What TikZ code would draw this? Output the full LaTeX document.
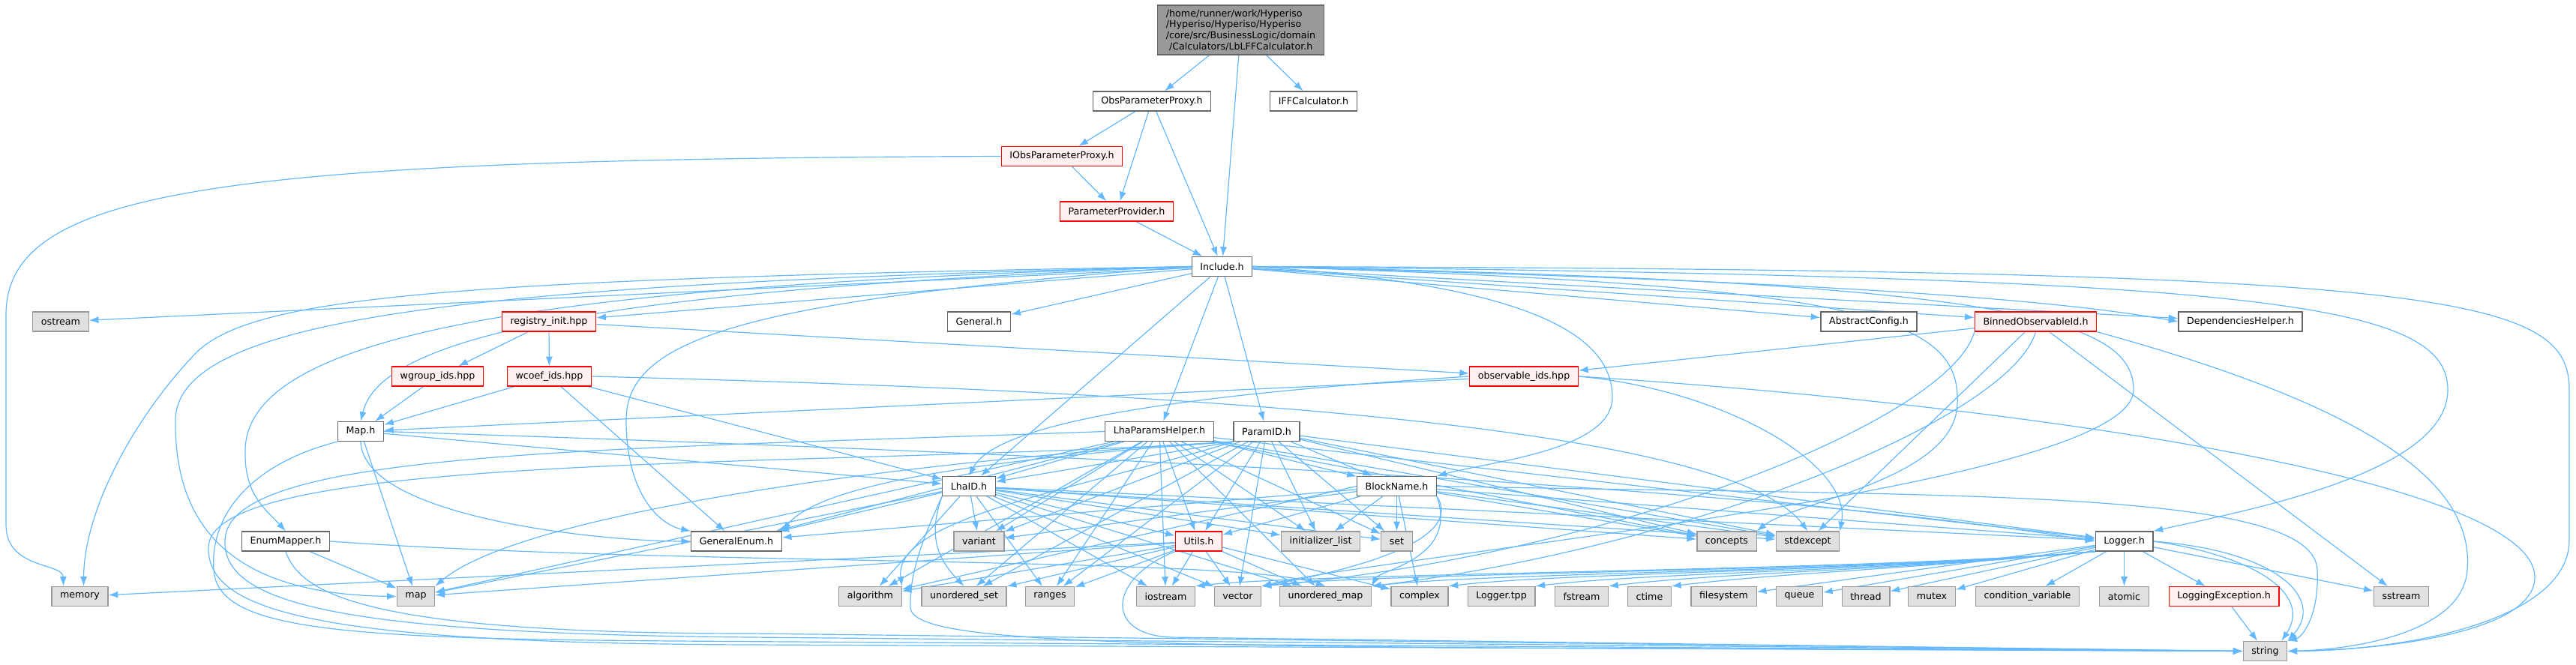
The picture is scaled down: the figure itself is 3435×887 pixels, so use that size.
\documentclass[tikz,border=0pt]{standalone}
\usepackage{fontspec}
\setmainfont{DejaVu Sans}
\usetikzlibrary{arrows.meta}
\usetikzlibrary{calc}
\usetikzlibrary{backgrounds}
\definecolor{edgeblue}{HTML}{63B8FF}
\definecolor{boxgray}{HTML}{666666}
\definecolor{sysgray}{HTML}{999999}
\definecolor{sysfill}{HTML}{E0E0E0}
\definecolor{redfill}{HTML}{FFF0F0}
\definecolor{rootfill}{HTML}{999999}
\newcommand{\fan}[2]{\foreach \dst in {#2} {\draw[dep] (#1) -- (\dst);}}
\newcommand{\logdep}[1]{\draw[dep] (logger.south west) .. controls (2500,762) and ($(#1.north east)+(150,-18)$) .. (#1.north east);}

\begin{document}
\begin{tikzpicture}[x=0.025cm,y=-0.025cm,
  file/.style={draw=boxgray, fill=white, line width=0.9pt, font=\fontsize{9}{10.45}\selectfont, minimum height=18.5pt, inner xsep=7.9pt, inner ysep=0pt},
  filesys/.style={file, draw=sysgray, fill=sysfill},
  filered/.style={file, draw=red, fill=redfill},
  fileroot/.style={file, fill=rootfill, align=left, minimum height=0pt, inner ysep=3.9pt},
  dep/.style={draw=edgeblue, line width=0.85pt, -{Latex[length=9pt,width=6.5pt]}}]
    \useasboundingbox (0,0) rectangle (3435,887);

    % top part
    \node[fileroot] (root) at (1654.5,40) {/home/runner/work/Hyperiso\\/Hyperiso/Hyperiso/Hyperiso\\/core/src/BusinessLogic/domain\\\hspace{3pt}/Calculators/LbLFFCalculator.h};
    \node[file] (obsproxy) at (1536,135) {ObsParameterProxy.h};
    \node[file] (iffcalc) at (1751.5,135) {IFFCalculator.h};
    \node[filered] (iobsproxy) at (1416,208.5) {IObsParameterProxy.h};
    \node[filered] (paramprov) at (1489,282) {ParameterProvider.h};
    \node[file] (include) at (1629.5,355.5) {Include.h};

    % headers under Include.h
    \node[filesys] (ostream) at (81,429) {ostream};
    \node[filered] (reginit) at (732,429) {registry\_init.hpp};
    \node[file] (general) at (1305.5,429) {General.h};
    \node[file] (abscfg) at (2492,429) {AbstractConfig.h};
    \node[filered] (binned) at (2714.5,429) {BinnedObservableId.h};
    \node[file] (dephelp) at (2987.5,429) {DependenciesHelper.h};
    \node[filered] (wgroup) at (583.5,502) {wgroup\_ids.hpp};
    \node[filered] (wcoef) at (732.5,502) {wcoef\_ids.hpp};
    \node[filered] (obsids) at (2032,502) {observable\_ids.hpp};
    \node[file] (maph) at (481,575.5) {Map.h};
    \node[file] (lhahelper) at (1546,575.5) {LhaParamsHelper.h};
    \node[file] (paramid) at (1689,575.5) {ParamID.h};
    \node[file] (lhaid) at (1292,648.5) {LhaID.h};
    \node[file] (blockname) at (1862.5,648.5) {BlockName.h};
    \node[file] (enummap) at (381,722) {EnumMapper.h};
    \node[file] (genenum) at (982,722) {GeneralEnum.h};
    \node[filesys] (variant) at (1305.5,722) {variant};
    \node[filered] (utils) at (1598.5,722) {Utils.h};
    \node[filesys] (initlist) at (1761,722) {initializer\_list};
    \node[filesys] (setlib) at (1862.5,722) {set};
    \node[filesys] (concepts) at (2302.5,722) {concepts};
    \node[filesys] (stdexcept) at (2410.5,722) {stdexcept};
    \node[file] (logger) at (2832.5,722) {Logger.h};

    % bottom row
    \node[filesys] (memory) at (106.5,795.5) {memory};
    \node[filesys] (maplib) at (554.5,795.5) {map};
    \node[filesys] (algorithm) at (1160.5,795.5) {algorithm};
    \node[filesys] (uset) at (1285.5,795.5) {unordered\_set};
    \node[filesys] (ranges) at (1400,795.5) {ranges};
    \node[filesys] (iostream) at (1554.5,795.5) {iostream};
    \node[filesys] (vector) at (1650.5,795.5) {vector};
    \node[filesys] (umap) at (1767.5,795.5) {unordered\_map};
    \node[filesys] (complex) at (1893,795.5) {complex};
    \node[filesys] (loggertpp) at (2002,795.5) {Logger.tpp};
    \node[filesys] (fstream) at (2109,795.5) {fstream};
    \node[filesys] (ctime) at (2199.5,795.5) {ctime};
    \node[filesys] (filesystem) at (2298.5,795.5) {filesystem};
    \node[filesys] (queue) at (2399.5,795.5) {queue};
    \node[filesys] (thread) at (2488,795.5) {thread};
    \node[filesys] (mutex) at (2576,795.5) {mutex};
    \node[filesys] (condvar) at (2703.5,795.5) {condition\_variable};
    \node[filesys] (atomic) at (2832.5,795.5) {atomic};
    \node[filered] (logexc) at (2965.5,795.5) {LoggingException.h};
    \node[filesys] (sstream) at (3202,795.5) {sstream};
    \node[filesys] (string) at (3020.5,868.5) {string};

    \begin{scope}[on background layer]
    \fan{root}{obsproxy,include,iffcalc}
    \fan{obsproxy}{iobsproxy,paramprov,include}
    \fan{iobsproxy}{paramprov}
    \fan{paramprov}{include}
    \draw[dep] (iobsproxy.west) .. controls (300,212) and (8,250) .. (8,420) -- (8,700) .. controls (8,760) and (84,750) .. ($(memory.north)+(-22,0)$);

    % Include.h
    \fan{include}{ostream,reginit,general,lhaid,lhahelper,paramid,abscfg,binned,dephelp}
    \draw[dep] (include.west) .. controls (600,372) and (340,395) .. (262,470) .. controls (180,555) and (112,680) .. ($(memory.north)+(5,0)$);
    \draw[dep] (include.west) .. controls (650,378) and (236,420) .. (234,560) .. controls (232,720) and (330,793) .. (maplib.west);
    \draw[dep] (include.west) .. controls (750,380) and (330,440) .. (327,600) .. controls (325,660) and (355,680) .. (enummap.north);
    \draw[dep] (include.west) .. controls (850,385) and (510,440) .. (maph.north);
    \draw[dep] (include.west) .. controls (1000,400) and (835,450) .. (835,560) .. controls (835,660) and (880,700) .. (genenum.north west);
    \draw[dep] (include.east) .. controls (2050,380) and (2150,450) .. (2150,530) .. controls (2150,600) and (1990,615) .. (blockname.north east);
    \draw[dep] (include.east) .. controls (2500,380) and (2615,425) .. (2610,540) .. controls (2605,640) and (2390,670) .. (concepts.north east);
    \draw[dep] (include.east) .. controls (2650,375) and (2845,420) .. (2845,520) .. controls (2845,650) and (1850,740) .. (vector.north east);
    \draw[dep] (include.east) .. controls (3000,370) and (3264,400) .. (3264,520) .. controls (3264,630) and (3000,680) .. (logger.north east);
    \draw[dep] (include.east) .. controls (3250,360) and (3426,390) .. (3426,520) -- (3426,720) .. controls (3426,830) and (3200,868) .. (string.east);
    \draw[dep] (include.east) .. controls (2300,372) and (2700,392) .. (dephelp.west);

    % id registries
    \fan{reginit}{wgroup,wcoef,obsids}
    \fan{wgroup}{maph}
    \fan{wcoef}{maph,genenum,lhaid}
    \draw[dep] (wcoef.east) .. controls (1500,520) and (2300,560) .. (stdexcept.north);
    \fan{obsids}{maph}
    \draw[dep] (obsids.west) .. controls (1600,525) and (1330,560) .. (lhaid.north);
    \draw[dep] (obsids.east) .. controls (2300,520) and (2470,620) .. (stdexcept.north east);
    \draw[dep] (obsids.east) .. controls (2700,540) and (3380,640) .. (3380,770) .. controls (3380,840) and (3200,866) .. (string.east);
    \fan{binned}{obsids,stdexcept,sstream}
    \draw[dep] (binned.south) .. controls (2680,560) and (2250,730) .. (umap.north east);
    \draw[dep] (binned.south west) .. controls (2600,560) and (2150,740) .. (vector.north east);
    \draw[dep] (binned.south east) .. controls (3150,540) and (3300,640) .. (3290,760) .. controls (3285,840) and (3150,866) .. (string.east);

    % Map.h, EnumMapper.h
    \fan{maph}{lhaid,maplib}
    \draw[dep] (maph.south) .. controls (485,690) and (800,722) .. (genenum.west);
    \draw[dep] (maph.east) .. controls (1200,598) and (2300,640) .. (logger.west);
    \draw[dep] (maph.south west) .. controls (330,620) and (280,690) .. (285,760) .. controls (290,840) and (450,852) .. (900,855) -- (string.west);
    \fan{enummap}{maplib}
    \draw[dep] (enummap.east) .. controls (900,755) and (1650,742) .. (umap.north);
    \draw[dep] (enummap.south) .. controls (400,790) and (480,845) .. (1000,845) -- (string.west);

    % LhaParamsHelper.h, ParamID.h
    \fan{lhahelper}{lhaid,utils,variant,initlist,setlib,concepts,stdexcept,logger,genenum,maplib,algorithm,uset,ranges,iostream,umap}
    \draw[dep] (lhahelper.south east) -- (blockname);
    \draw[dep] (lhahelper.west) .. controls (800,600) and (305,600) .. (300,720) .. controls (296,805) and (450,845) .. (1000,850) -- (string.west);
    \fan{paramid}{blockname,utils,variant,initlist,setlib,concepts,stdexcept,logger,uset,ranges,vector}
    \draw[dep] (paramid.south west) -- (lhaid);
    \draw[dep] (paramid.south west) .. controls (1350,610) and (1100,640) .. (genenum.north east);
    \draw[dep] (paramid.south west) .. controls (1250,610) and (700,680) .. (maplib.north east);
    \draw[dep] (paramid.south west) .. controls (1450,650) and (1190,690) .. (algorithm.north east);
    \draw[dep] (paramid.south west) .. controls (1100,625) and (280,600) .. (278,730) .. controls (276,815) and (420,858) .. (1000,860) -- (string.west);

    % LhaID.h, BlockName.h
    \fan{lhaid}{genenum,maplib,variant,utils,initlist,setlib,concepts,stdexcept,logger,algorithm,ranges,iostream,vector,umap}
    \draw[dep] (lhaid.south west) .. controls (1235,720) and (1255,750) .. (uset.north);
    \draw[dep] (lhaid.south west) .. controls (1225,730) and (1213,770) .. (1214,810) .. controls (1215,850) and (1400,860) .. (2000,864) -- (string.west);
    \fan{blockname}{genenum,variant,utils,initlist,setlib,concepts,stdexcept,logger,complex}
    \draw[dep] (blockname.west) -- (algorithm);
    \draw[dep] (blockname.south east) .. controls (1960,730) and (1750,770) .. (vector.north east);
    \draw[dep] (blockname.south east) .. controls (1945,745) and (1840,760) .. (umap.north east);
    \draw[dep] (blockname.east) .. controls (2600,662) and (3085,650) .. (3090,760) .. controls (3093,820) and (3070,850) .. (string.north east);

    % Utils.h
    \fan{utils}{memory,maplib,algorithm,uset,ranges,iostream,vector,umap,complex}
    \draw[dep] (utils.south west) .. controls (1480,770) and (1470,845) .. (1560,850) -- (string.west);

    % Logger.h
    \logdep{iostream}
    \logdep{vector}
    \logdep{umap}
    \logdep{complex}
    \logdep{loggertpp}
    \logdep{fstream}
    \logdep{ctime}
    \fan{logger}{filesystem,queue,thread,mutex,condvar,atomic,logexc,sstream}
    \draw[dep] (logger.east) .. controls (3040,735) and (3100,800) .. (string.north east);
    \draw[dep] (logger.east) .. controls (3000,740) and (3085,790) .. ($(string.north east)+(-8,0)$);
    \fan{logexc}{string}
    \end{scope}
\end{tikzpicture}
\end{document}
